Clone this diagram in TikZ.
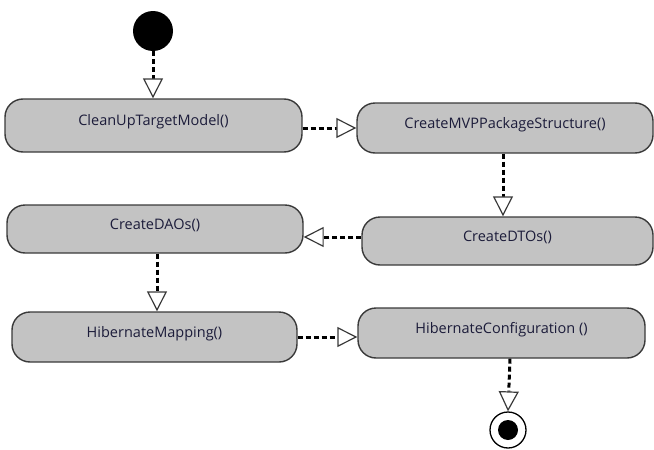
\documentclass[tikz,border=0pt]{standalone}
\usepackage{fontspec}
\setmainfont{Open Sans}
\usetikzlibrary{arrows.meta,calc}
\definecolor{boxfill}{HTML}{C3C3C3}
\definecolor{boxline}{HTML}{3A3A3A}
\definecolor{txt}{HTML}{1C1C3A}
\tikzset{
  actbox/.style={draw=boxline, line width=1.4pt, fill=boxfill, rounded corners=18pt,
    minimum height=#1, inner sep=0pt, text=txt, font=\fontsize{14.5}{16}\selectfont,
    text height=9pt, text depth=9pt},
  flow/.style={line width=3pt, dash pattern=on 5pt off 3pt, black,
    -{Triangle[length=20pt, width=20pt, line width=1.2pt, fill=white, color=boxline]}},
}
\begin{document}
\begin{tikzpicture}[x=1pt,y=-1pt]
\useasboundingbox (0,0) rectangle (654,450);
\node[circle, fill=black, minimum size=40pt, inner sep=0pt] (start) at (153,31) {};
\node[actbox=53pt, minimum width=297pt] (clean) at (153.5,125.5) {CleanUpTargetModel()};
\node[actbox=50pt, minimum width=296pt] (mvpp) at (505,128) {CreateMVPPackageStructure()};
\node[actbox=48pt, minimum width=291pt] (dtos) at (507.5,241) {CreateDTOs()};
\node[actbox=48pt, minimum width=296pt] (daos) at (155,229) {CreateDAOs()};
\node[actbox=50pt, minimum width=285pt] (hm) at (154.5,337) {HibernateMapping()};
\node[actbox=50pt, minimum width=287pt] (hc) at (501.5,333) {HibernateConfiguration ()};
\node[circle, draw=black, line width=1.3pt, fill=white, minimum size=36pt, inner sep=0pt] (finish) at (508,430) {};
\node[circle, fill=black, minimum size=20pt, inner sep=0pt] (finishdot) at (finish) {};
\coordinate (r1) at (0,128);
\coordinate (r2) at (0,237);
\coordinate (r3) at (0,337);
\coordinate (c2) at (503,0);
\coordinate (c3) at (157,0);
\coordinate (c4) at (510,0);
\draw[flow] (start.south) -- (start.south |- clean.north);
\draw[flow] (clean.east |- r1) -- (mvpp.west |- r1);
\draw[flow] (mvpp.south -| c2) -- (dtos.north -| c2);
\draw[flow] (dtos.west |- r2) -- (daos.east |- r2);
\draw[flow] (daos.south -| c3) -- (hm.north -| c3);
\draw[flow] (hm.east |- r3) -- (hc.west |- r3);
\draw[flow] (hc.south -| c4) -- (finish.north);
\end{tikzpicture}
\end{document}
